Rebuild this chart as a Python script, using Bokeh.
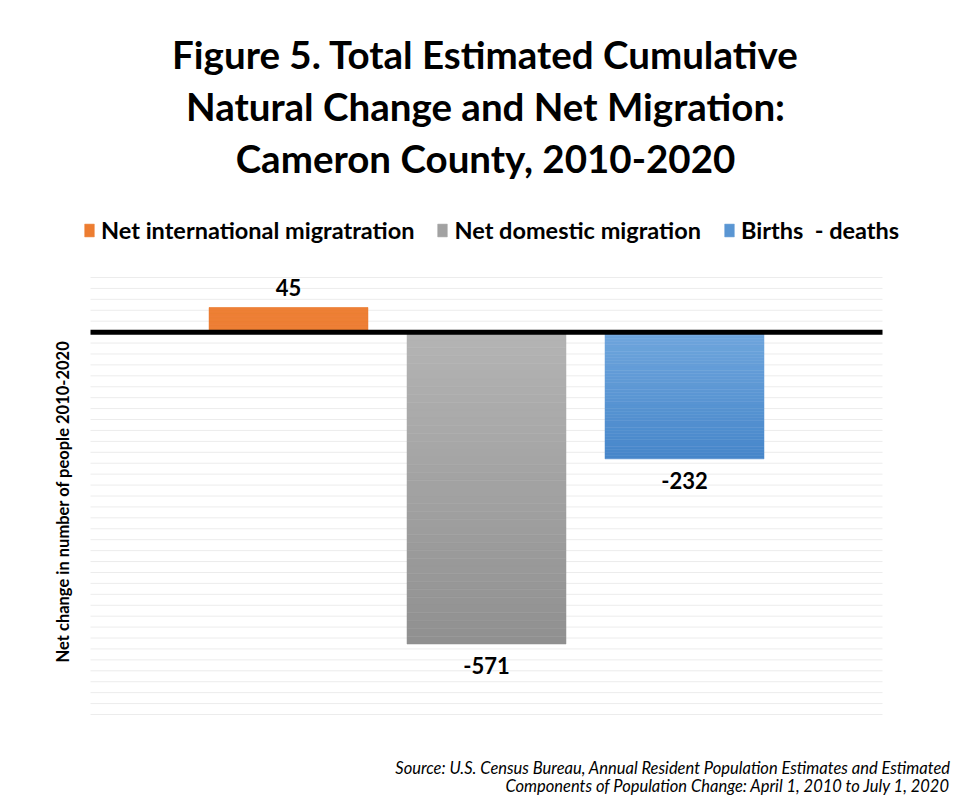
import numpy as np
from bokeh.plotting import figure
from bokeh.models import Label, Legend, LegendItem, ColumnDataSource, Range1d
from bokeh.embed import file_html
from bokeh.resources import INLINE
from bokeh.core.properties import value

# ---- data ----
series = ["Net international migratration", "Net domestic migration", "Births  - deaths"]
values = [45, -571, -232]
title_lines = ["Figure 5. Total Estimated Cumulative",
               "Natural Change and Net Migration:",
               "Cameron County, 2010-2020"]
y_label = "Net change in number of people 2010-2020"
source_lines = ["Source: U.S. Census Bureau, Annual Resident Population Estimates and Estimated",
                "Components of Population Change: April 1, 2010 to July 1, 2020"]
y_min, y_max, grid_step = -700, 100, 20

# gradient colours (visual top -> visual bottom)
top_colors = [(237, 125, 49), (180, 180, 180), (112, 166, 221)]
bottom_colors = [(237, 125, 49), (144, 144, 144), (70, 134, 202)]

FONT = "Lato"
W, H = 960, 798
# plot area in canvas pixels
PL, PR, PT, PB = 90, 882, 277, 714
sx = (PR - PL)            # px per x unit (x area is 0..1)
sy = (PB - PT) / (y_max - y_min)   # px per y unit

x_start = -PL / sx
x_end = 1 + (W - PR) / sx
y_end = y_max + PT / sy
y_start = y_min - (H - PB) / sy

p = figure(width=W, height=H, output_backend="svg", toolbar_location=None,
           x_range=Range1d(x_start, x_end), y_range=Range1d(y_start, y_end),
           min_border=0)
p.axis.visible = False
p.grid.visible = False
p.outline_line_color = None
p.background_fill_color = "white"
p.border_fill_color = "white"

# gridlines
gy = np.arange(y_min, y_max + 1, grid_step)
p.segment(x0=[0] * len(gy), x1=[1] * len(gy), y0=gy, y1=gy, line_color="#ececec", line_width=1)

bar_w = 159 / 792
gap = 39 / 792
n = len(values)
centers = [0.5 + (i - (n - 1) / 2) * (bar_w + gap) for i in range(n)]

items = []
NS = 40
for i, v in enumerate(values):
    top = max(0, v)
    bot = min(0, v)
    edges = np.linspace(top, bot, NS + 1)
    tops = edges[:-1]
    bots = edges[1:]
    mids = (tops + bots) / 2
    t = (top - mids) / (top - bot)
    c0 = np.array(top_colors[i])
    c1 = np.array(bottom_colors[i])
    cols = ["#%02x%02x%02x" % tuple(int(round(x)) for x in (c0 + (c1 - c0) * tt)) for tt in t]
    src = ColumnDataSource(dict(x=[centers[i]] * NS, top=tops, bottom=bots, color=cols))
    r = p.vbar(x="x", top="top", bottom="bottom", width=bar_w, source=src,
               fill_color="color", line_color="color", line_width=0.5)
    items.append(LegendItem(label=series[i], renderers=[r], index=NS // 2))

    if v >= 0:
        p.text(x=[centers[i]], y=[v], text=[str(v)], text_align="center", text_baseline="bottom",
               y_offset=-12, text_font=value(FONT), text_font_style="bold",
               text_font_size="22px", text_color="#000000")
    else:
        p.text(x=[centers[i]], y=[v], text=[str(v)], text_align="center", text_baseline="top",
               y_offset=13, text_font=value(FONT), text_font_style="bold",
               text_font_size="22px", text_color="#000000")

# zero line
p.segment(x0=[0], x1=[1], y0=[0], y1=[0], line_color="black", line_width=5)

legend = Legend(items=items, orientation="horizontal", location=(83, H - 244),
                label_text_font=FONT, label_text_font_style="bold", label_text_font_size="23.5px",
                label_text_color="#000000",
                glyph_width=12, glyph_height=16, label_standoff=6, spacing=22, label_height=22,
                padding=0, margin=0, border_line_color=None, background_fill_alpha=0)
p.add_layout(legend, "center")

title_y = [53, 105, 157]
for line, yy in zip(title_lines, title_y):
    p.add_layout(Label(x=(PL + PR) / 2 - 1, y=H - yy, x_units="screen", y_units="screen", text=line,
                       text_align="center", text_baseline="middle", text_font=FONT,
                       text_font_style="bold", text_font_size="38.5px", text_color="#000000"))

p.add_layout(Label(x=62, y=H - 501, x_units="screen", y_units="screen", text=y_label,
                   angle=np.pi / 2, text_align="center", text_baseline="middle", text_font=FONT,
                   text_font_style="bold", text_font_size="16.5px", text_color="#000000"))

src_y = [767, 785]
for line, yy in zip(source_lines, src_y):
    p.add_layout(Label(x=950, y=H - yy, x_units="screen", y_units="screen", text=line,
                       text_align="right", text_baseline="middle", text_font=FONT,
                       text_font_style="italic", text_font_size="16.5px", text_color="#000000"))

open("out.html", "w").write(file_html(p, INLINE))
